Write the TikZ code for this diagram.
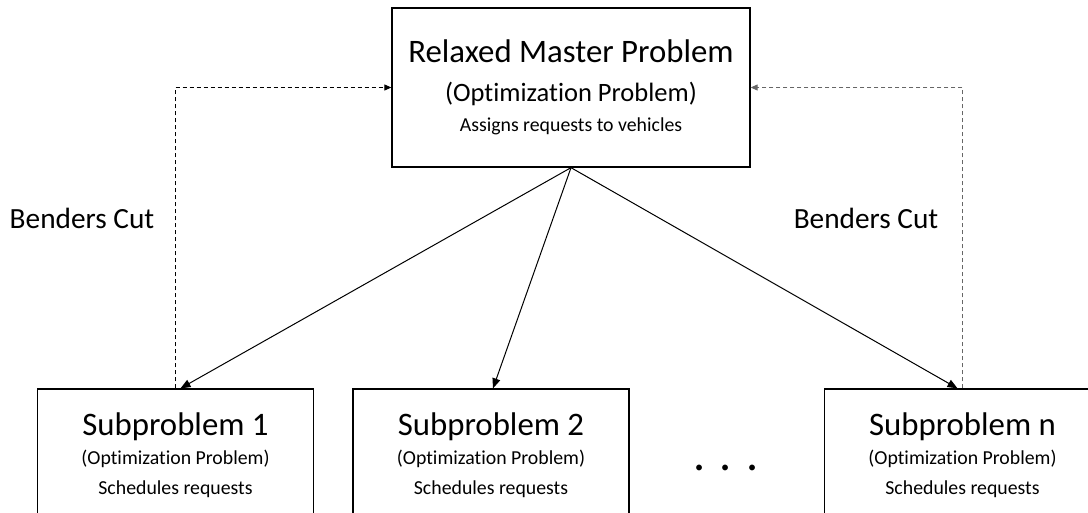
\documentclass[tikz,border=0pt]{standalone}
\usepackage{fontspec}
\setmainfont{Carlito}[Ligatures={NoCommon}]
\usetikzlibrary{arrows.meta, positioning, calc}
\newcommand\fsBig{\fontsize{32.8}{34}\selectfont}
\newcommand\fsMid{\fontsize{26.5}{28}\selectfont}
\newcommand\fsSmall{\fontsize{19.8}{20}\selectfont}
\tikzset{
  every picture/.style={x=1pt, y=-1pt, line width=1pt},
  box/.style={draw=black, line width=1.3pt, align=center, inner sep=0pt,
              font=\fontsize{19.8}{20}\selectfont, minimum width=#1},
  box/.default=276pt,
  arrow/.style={-{Triangle[length=10pt, width=8pt]}, draw=black},
  cut/.style={-{Triangle[length=7pt, width=6pt]}, dash pattern=on 4pt off 3pt, draw=#1},
  cut/.default=black,
  note/.style={font=\fontsize{29.3}{30}\selectfont},
}

\begin{document}
\begin{tikzpicture}
  \useasboundingbox (0,0) rectangle (1088,512);
  \clip (0,0) rectangle (1088,512);
  \node[box=358pt, minimum height=159pt] (master) at (571,87.5)
    {{\fsBig Relaxed Master Problem}\\[19pt]{\fsMid (Optimization Problem)}\\[10.5pt]Assigns requests to vehicles};
  \node[box, minimum height=132pt] (sub1) at (175.5,455)
    {{\fsBig Subproblem 1}\\[9.5pt](Optimization Problem)\\[10pt]Schedules requests};
  \node[box, minimum height=132pt] (sub2) at (491,455)
    {{\fsBig Subproblem 2}\\[9.5pt](Optimization Problem)\\[10pt]Schedules requests};
  \node[box, minimum height=132pt] (subn) at (962.5,455)
    {{\fsBig Subproblem n}\\[9.5pt](Optimization Problem)\\[10pt]Schedules requests};
  \node[font=\fontsize{48}{48}\selectfont] (dots) at (726,468) {. . .};
  \node[note] (cutl) at (82,218) {Benders Cut};
  \node[note] (cutr) at (866,218) {Benders Cut};
  \draw[arrow] (master.south) -- ([xshift=5pt]sub1.north);
  \draw[arrow] (master.south) -- ([xshift=2pt]sub2.north);
  \draw[arrow] (master.south) -- ([xshift=-5pt]subn.north);
  \draw[cut] (sub1.north) |- (master.west);
  \draw[cut=black!60] (subn.north) |- (master.east);
\end{tikzpicture}
\end{document}
